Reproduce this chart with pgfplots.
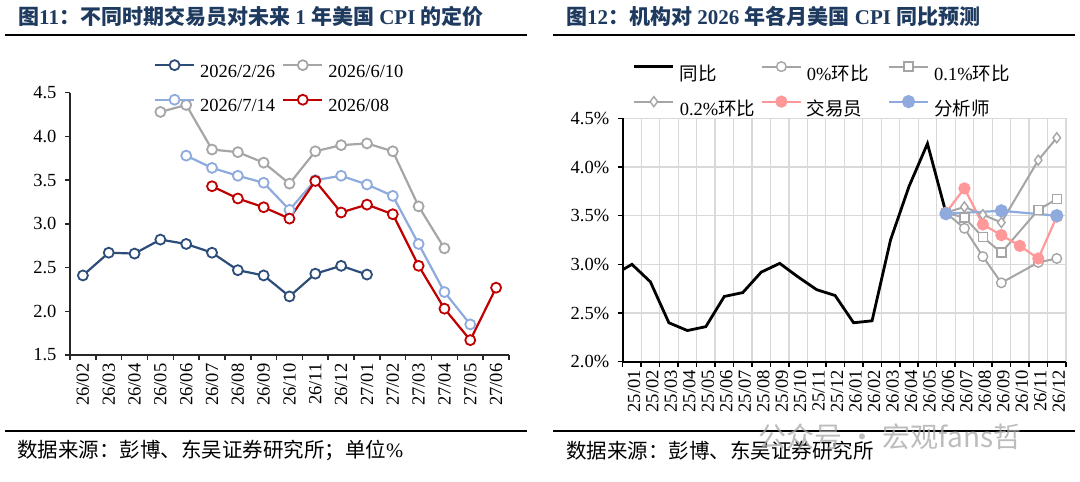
\documentclass[border=0pt]{standalone}
\usepackage{pgfplots}
\pgfplotsset{compat=1.18}
\usepackage{fontspec}
\setmainfont{Liberation Serif}
\newfontfamily\cjk{Noto Sans CJK SC}
\definecolor{titlec}{HTML}{1F3A5F}
\definecolor{cA}{HTML}{2C4D7A}
\definecolor{cB}{HTML}{A6A6A6}
\definecolor{cC}{HTML}{8FAADC}
\definecolor{cD}{HTML}{C00000}
\definecolor{cPink}{HTML}{FF9999}
\definecolor{cBlue}{HTML}{8FAADC}
\definecolor{cGray}{HTML}{A5A5A5}
\newcommand{\lt}[2]{\hspace{5pt}\makebox[#1][l]{#2}\rule[-4pt]{0pt}{17pt}}
\begin{document}
\begin{tikzpicture}
\path[use as bounding box] (0pt,0pt) rectangle (1080pt,-482pt);
% titles
\node[anchor=west, inner sep=0pt, text=titlec, font=\fontsize{21}{21}\selectfont\bfseries] at (18pt,-16.5pt) {{\cjk 图}11{\cjk ：不同时期交易员对未来}~1~{\cjk 年美国}~CPI~{\cjk 的定价}};
\node[anchor=west, inner sep=0pt, text=titlec, font=\fontsize{21}{21}\selectfont\bfseries] at (566pt,-16.5pt) {{\cjk 图}12{\cjk ：机构对}~2026~{\cjk 年各月美国}~CPI~{\cjk 同比预测}};
% rules
\draw[line width=2.5pt] (5pt,-35pt) -- (527pt,-35pt);
\draw[line width=2.5pt] (553pt,-35pt) -- (1075pt,-35pt);
\draw[line width=2pt] (5pt,-430.7pt) -- (527pt,-430.7pt);
\draw[line width=2pt] (553pt,-430.7pt) -- (1075pt,-430.7pt);
% sources
\node[anchor=west, inner sep=0pt, font=\fontsize{20.5}{20.5}\selectfont] at (17pt,-450.7pt) {{\cjk 数据来源：彭博、东吴证券研究所；单位}\%};
\node[anchor=west, inner sep=0pt, font=\fontsize{20.5}{20.5}\selectfont] at (566pt,-450.7pt) {{\cjk 数据来源：彭博、东吴证券研究所}};

% ---------------- left chart
\begin{axis}[
  at={(70pt,-355pt)}, anchor=south west, scale only axis,
  width=439pt, height=262.3pt,
  xmin=-0.5, xmax=16.5, ymin=1.5, ymax=4.5,
  axis x line*=bottom, axis y line*=left,
  axis line style={line width=1.8pt, black!85},
  xtick={-0.5,0.5,...,16.5}, x tick label as interval,
  xticklabels={26/02,26/03,26/04,26/05,26/06,26/07,26/08,26/09,26/10,26/11,26/12,27/01,27/02,27/03,27/04,27/05,27/06},
  ytick={1.5,2,...,4.5},
  yticklabel={\pgfmathprintnumber[fixed,fixed zerofill,precision=1]{\tick}},
  /pgf/number format/assume math mode=true,
  tick align=outside, major tick length=5pt,
  tick style={line width=1.5pt, black!85},
  tick label style={font=\fontsize{18.5}{18.5}\selectfont},
  yticklabel style={xshift=-5pt},
  xticklabel style={rotate=90, anchor=east},
  legend columns=2,
  legend style={at={(0.1913,1.124)}, anchor=north west, draw=none, fill=none,
    inner sep=0pt, outer sep=0pt, column sep=0pt, row sep=16pt,
    font=\fontsize{18.5}{18.5}\selectfont, nodes={inner sep=0pt, outer sep=0pt}},
  legend image code/.code={\draw[mark repeat=2,mark phase=2,#1] plot coordinates {(0pt,6.3pt) (19.5pt,6.3pt) (39pt,6.3pt)};},
]
\addplot[color=cA, line width=2.2pt, mark=*, mark size=5pt, mark options={fill=white, line width=1.8pt}] coordinates {
(0,2.41) (1,2.67) (2,2.66) (3,2.82) (4,2.77) (5,2.67) (6,2.47) (7,2.41) (8,2.17) (9,2.43) (10,2.52) (11,2.42)};
\addlegendentry{\lt{82pt}{2026/2/26}}
\addplot[color=cB, line width=2.2pt, mark=*, mark size=5pt, mark options={fill=white, line width=1.8pt}] coordinates {
(3,4.28) (4,4.36) (5,3.85) (6,3.82) (7,3.70) (8,3.46) (9,3.83) (10,3.90) (11,3.92) (12,3.83) (13,3.20) (14,2.72)};
\addlegendentry{\lt{82pt}{2026/6/10}}
\addplot[color=cC, line width=2.2pt, mark=*, mark size=5pt, mark options={fill=white, line width=1.8pt}] coordinates {
(4,3.78) (5,3.64) (6,3.55) (7,3.47) (8,3.16) (9,3.50) (10,3.55) (11,3.45) (12,3.32) (13,2.77) (14,2.22) (15,1.85)};
\addlegendentry{\lt{82pt}{2026/7/14}}
\addplot[color=cD, line width=2.2pt, mark=*, mark size=5pt, mark options={fill=white, line width=1.8pt}] coordinates {
(5,3.43) (6,3.29) (7,3.19) (8,3.06) (9,3.49) (10,3.13) (11,3.22) (12,3.11) (13,2.52) (14,2.03) (15,1.67) (16,2.27)};
\addlegendentry{\lt{82pt}{2026/08}}
\end{axis}

% ---------------- right chart
\begin{axis}[
  at={(622.7pt,-361.7pt)}, anchor=south west, scale only axis,
  width=443.3pt, height=243.4pt,
  xmin=-0.5, xmax=23.5, ymin=2, ymax=4.5,
  axis x line*=bottom, axis y line*=left,
  axis line style={line width=2pt, black},
  xtick={-0.5,0.5,...,23.5}, x tick label as interval,
  xticklabels={25/01,25/02,25/03,25/04,25/05,25/06,25/07,25/08,25/09,25/10,25/11,25/12,26/01,26/02,26/03,26/04,26/05,26/06,26/07,26/08,26/09,26/10,26/11,26/12},
  ytick={2,2.5,...,4.5},
  yticklabel={\pgfmathprintnumber[fixed,fixed zerofill,precision=1]{\tick}\%},
  /pgf/number format/assume math mode=true,
  grid=major, grid style={draw=black!15, line width=1.2pt},
  tick align=outside, major tick length=5pt,
  tick style={line width=1.5pt, black},
  tick label style={font=\fontsize{18.5}{18.5}\selectfont},
  yticklabel style={xshift=-5pt},
  xticklabel style={rotate=90, anchor=east, yshift=-2pt},
  legend columns=3,
  legend style={at={(0.0232,1.232)}, anchor=north west, draw=none, fill=none,
    inner sep=0pt, outer sep=0pt, column sep=0pt, row sep=14.5pt,
    font=\fontsize{18.5}{18.5}\selectfont, nodes={inner sep=0pt, outer sep=0pt}},
  legend image code/.code={\draw[mark repeat=2,mark phase=2,#1] plot coordinates {(0pt,6.5pt) (19.5pt,6.5pt) (39pt,6.5pt)};},
]
\addplot[color=black, line width=2.8pt, mark=none] coordinates {
(-1,2.89) (0,3.00) (1,2.82) (2,2.40) (3,2.32) (4,2.36) (5,2.67) (6,2.71) (7,2.92) (8,3.01) (9,2.87) (10,2.74) (11,2.68) (12,2.40) (13,2.42) (14,3.25) (15,3.80) (16,4.24) (17,3.53)};
\addlegendentry{\lt{81pt}{\cjk 同比}}
\addplot[color=cGray, line width=2pt, mark=*, mark size=4.8pt, mark options={fill=white, line width=1.4pt}] coordinates {
(17,3.53) (18,3.37) (19,3.08) (20,2.81) (22,3.02) (23,3.06)};
\addlegendentry{\lt{81pt}{0\%{\cjk 环比}}}
\addplot[color=cGray, line width=2pt, mark=square*, mark size=4.5pt, mark options={fill=white, line width=1.4pt}] coordinates {
(17,3.53) (18,3.48) (19,3.28) (20,3.12) (22,3.56) (23,3.67)};
\addlegendentry{\lt{81pt}{0.1\%{\cjk 环比}}}
\addplot[color=cGray, line width=2pt, mark=diamond*, mark size=5pt, mark options={fill=white, line width=1.4pt}] coordinates {
(17,3.53) (18,3.59) (19,3.51) (20,3.43) (22,4.07) (23,4.30)};
\addlegendentry{\lt{81pt}{0.2\%{\cjk 环比}}}
\addplot[color=cPink, line width=2.2pt, mark=*, mark size=5pt, mark options={fill=cPink}] coordinates {
(17,3.53) (18,3.78) (19,3.41) (20,3.30) (21,3.19) (22,3.06) (23,3.49)};
\addlegendentry{\lt{81pt}{\cjk 交易员}}
\addplot[color=cBlue, line width=2.2pt, mark=*, mark size=5.5pt, mark options={fill=cBlue}] coordinates {
(17,3.52) (20,3.55) (23,3.50)};
\addlegendentry{\lt{81pt}{\cjk 分析师}}
\end{axis}

% watermark
\node[anchor=west, inner sep=0pt, text=black!35, opacity=0.75, font=\fontsize{28}{28}\selectfont\cjk] at (758pt,-437pt) {公众号 · 宏观fans哲};
\end{tikzpicture}
\end{document}
